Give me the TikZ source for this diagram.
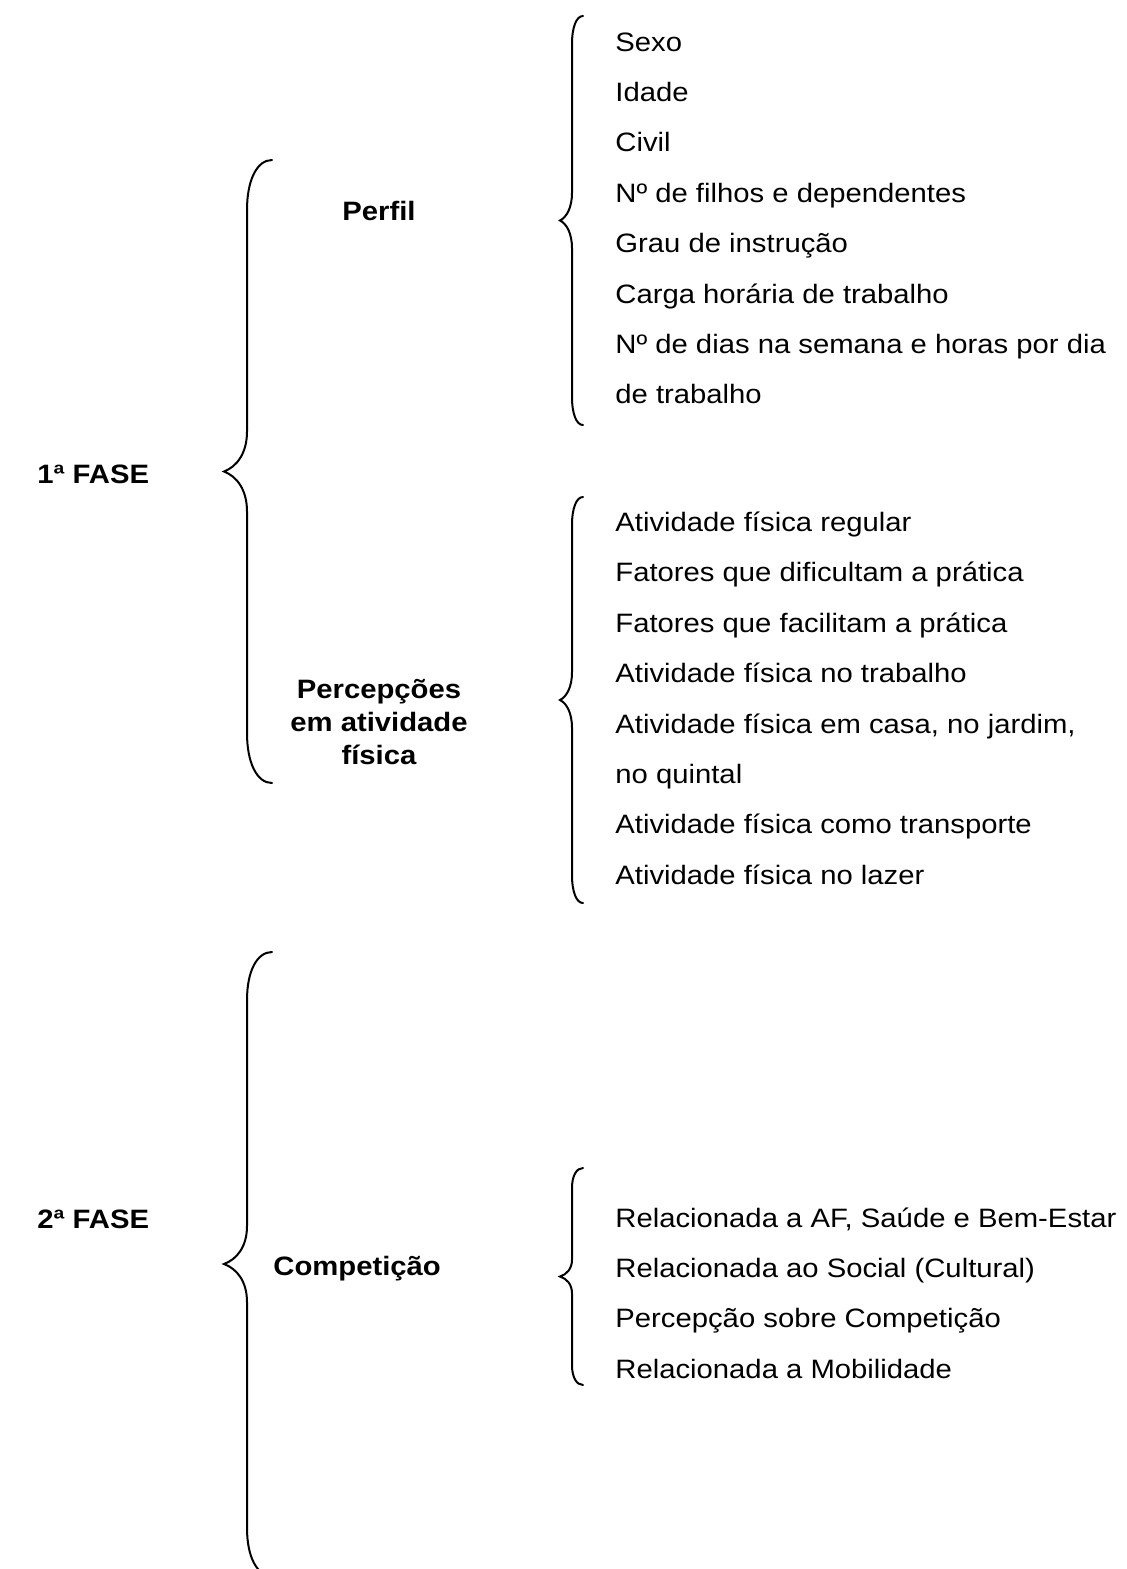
\documentclass[tikz,border=0pt]{standalone}
\usepackage{fontspec}
\setmainfont{Liberation Sans}[FakeStretch=1.1]

% brace as drawn by a word processor: #1 x of the stem, #2 top, #3 bottom,
% #4 curl width, #5 tip width, #6 curl height, #7 tip height
\newcommand{\chave}[7]{%
  \pgfmathsetmacro\cmid{(#2+#3)/2}
  \draw[brace line] ({#1+#4},#2) .. controls ({#1+0.4*#4},#2) and (#1,{#2+0.4*#6}) .. (#1,{#2+#6})
    -- (#1,{\cmid-#7}) .. controls (#1,{\cmid-0.45*#7}) and ({#1-0.45*#5},{\cmid-0.12*#7}) .. ({#1-#5},\cmid)
    .. controls ({#1-0.45*#5},{\cmid+0.12*#7}) and (#1,{\cmid+0.45*#7}) .. (#1,{\cmid+#7})
    -- (#1,{#3-#6}) .. controls (#1,{#3-0.4*#6}) and ({#1+0.4*#4},#3) .. ({#1+#4},#3);
}

\begin{document}
\begin{tikzpicture}[x=0.5pt, y=-0.5pt,
    brace line/.style={line width=1pt, line cap=round},
    item/.style={anchor=base west, inner sep=0pt, font=\fontsize{13.3}{16}\selectfont},
    head/.style={inner sep=0pt, font=\fontsize{13.3}{16.5}\selectfont\bfseries, align=center}]
    \useasboundingbox (0,0) rectangle (1126,1569);

        % Phases
        \node[head, anchor=base west] (fase1) at (37, 483) {1ª FASE};
        \node[head, anchor=base west] (fase2) at (37, 1228) {2ª FASE};

        % Braces of the phases
        \chave{247}{160}{783}{25}{23}{50}{40}
        \chave{247}{952}{1576}{25}{23}{48}{38}

        % Groups of the first and second phase
        \node[head, anchor=base] (perfil) at (379, 220) {Perfil};
        \node[head, anchor=base] (percep) at (379, 764) {Percepções\\em atividade\\física};
        \node[head, anchor=base west] (compet) at (273, 1275) {Competição};

        % Braces of the groups
        \chave{572}{16}{425}{11}{12}{28}{28}
        \chave{572}{497}{903}{11}{12}{28}{28}
        \chave{572}{1168}{1385}{11}{12}{20}{17}

        % Perfil items
        \node[item] (sexo) at (615, 51) {Sexo};
        \node[item] (idade) at (615, 101.4) {Idade};
        \node[item] (civil) at (615, 151.8) {Civil};
        \node[item] (filhos) at (615, 202.2) {Nº de filhos e dependentes};
        \node[item] (grau) at (615, 252.6) {Grau de instrução};
        \node[item] (carga) at (615, 303) {Carga horária de trabalho};
        \node[item] (dias) at (615, 353.4) {Nº de dias na semana e horas por dia};
        \node[item] (diasb) at (615, 403.8) {de trabalho};

        % Percepções items
        \node[item] (regular) at (615, 531.5) {Atividade física regular};
        \node[item] (dificultam) at (615, 581.9) {Fatores que dificultam a prática};
        \node[item] (facilitam) at (615, 632.3) {Fatores que facilitam a prática};
        \node[item] (trabalho) at (615, 682.7) {Atividade física no trabalho};
        \node[item] (casa) at (615, 733.1) {Atividade física em casa, no jardim,};
        \node[item] (casab) at (615, 783.5) {no quintal};
        \node[item] (transporte) at (615, 833.9) {Atividade física como transporte};
        \node[item] (lazer) at (615, 884.3) {Atividade física no lazer};

        % Competição items
        \node[item] (saude) at (615, 1227) {Relacionada a AF, Saúde e Bem-Estar};
        \node[item] (social) at (615, 1277.3) {Relacionada ao Social (Cultural)};
        \node[item] (sobre) at (615, 1327.6) {Percepção sobre Competição};
        \node[item] (mobil) at (615, 1378) {Relacionada a Mobilidade};
    \end{tikzpicture}
\end{document}
